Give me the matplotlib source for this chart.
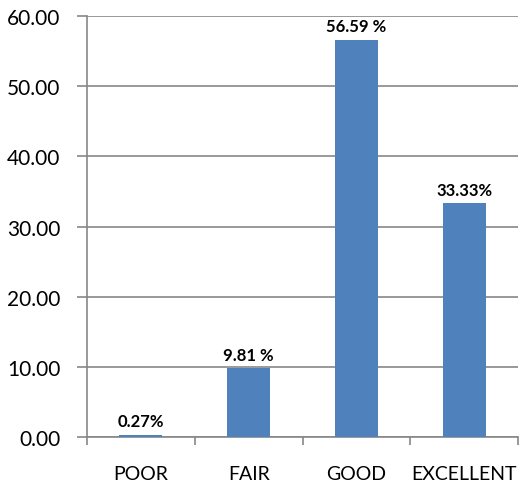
import matplotlib
matplotlib.use("Agg")
import matplotlib.pyplot as plt
import numpy as np

categories = ["POOR", "FAIR", "GOOD", "EXCELLENT"]
values = [0.27, 9.81, 56.59, 33.33]
value_labels = ["0.27%", "9.81 %", "56.59 %", "33.33%"]
yticks = [0, 10, 20, 30, 40, 50, 60]

BAR = "#4F81BD"
GRID = "#878787"

plt.rcParams["font.family"] = ["Lato", "DejaVu Sans"]

fig = plt.figure(figsize=(5.23, 4.85), dpi=100)
ax = fig.add_axes([87 / 523, 1 - 438 / 485, 431 / 523, 421 / 485])

x = np.arange(len(categories))
ax.bar(x, values, width=0.4, color=BAR, zorder=3)

for xi, v, lab in zip(x, values, value_labels):
    ax.text(xi, v + 0.8, lab, ha="center", va="bottom", fontsize=12,
            fontweight="bold", color="black", zorder=4)

ax.set_xlim(-0.5, len(categories) - 0.5)
ax.set_ylim(0, 60)
ax.set_yticks(yticks)
ax.set_yticklabels([f"{t:.2f}" for t in yticks], fontsize=15)
ax.yaxis.grid(True, color=GRID, linewidth=1.2, zorder=0)
ax.set_axisbelow(True)

# category labels centred, tick marks on the boundaries
ax.set_xticks(x)
ax.set_xticklabels(categories, fontsize=14)
ax.tick_params(axis="x", length=0, pad=20)
ax.set_xticks(np.arange(-0.5, len(categories)), minor=True)
ax.tick_params(axis="x", which="minor", length=6, color=GRID, width=1.2)
ax.tick_params(axis="y", length=7, color=GRID, width=1.2, pad=12)

for side in ["top", "right"]:
    ax.spines[side].set_visible(False)
ax.spines["left"].set_color(GRID)
ax.spines["bottom"].set_color(GRID)
ax.spines["left"].set_linewidth(1.2)
ax.spines["bottom"].set_linewidth(1.2)

fig.savefig("out.png", dpi=100)
